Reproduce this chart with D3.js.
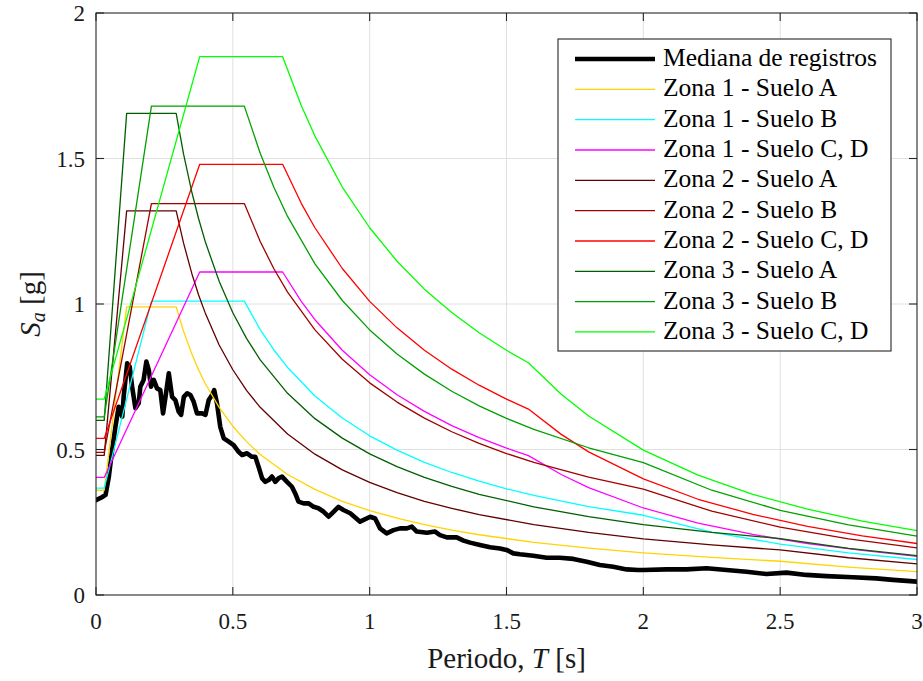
<!DOCTYPE html>
<html>
<head>
<meta charset="utf-8">
<script src="https://cdn.jsdelivr.net/npm/d3@7"></script>
<style>
html, body { margin: 0; padding: 0; background: #fff; }
svg { display: block; }
svg text { font-family: "Liberation Serif", "DejaVu Serif", "Times New Roman", serif; }
</style>
</head>
<body>
<svg id="chart" width="923" height="681" font-family="Liberation Serif, DejaVu Serif, serif"></svg>
<script>
// ---------- data ----------
const periodsA = [0, 0.03, 0.112, 0.293, 0.32, 0.35, 0.375, 0.4, 0.45, 0.5, 0.55, 0.6, 0.7, 0.8, 0.9, 1.0, 1.1, 1.2, 1.3, 1.4, 1.6, 1.8, 2.0, 2.25, 2.5, 2.75, 3.0];
const zona1SueloA = [0.36, 0.36, 0.99, 0.99, 0.906, 0.829, 0.773, 0.725, 0.645, 0.580, 0.527, 0.483, 0.414, 0.363, 0.322, 0.290, 0.264, 0.242, 0.223, 0.207, 0.181, 0.161, 0.145, 0.129, 0.116, 0.0959, 0.0806];
const zona2SueloA = [0.48, 0.48, 1.32, 1.32, 1.209, 1.105, 1.031, 0.967, 0.859, 0.774, 0.703, 0.645, 0.553, 0.484, 0.430, 0.387, 0.352, 0.322, 0.298, 0.276, 0.242, 0.215, 0.193, 0.172, 0.155, 0.128, 0.107];
const zona3SueloA = [0.60, 0.60, 1.655, 1.655, 1.515, 1.385, 1.293, 1.212, 1.078, 0.970, 0.882, 0.808, 0.693, 0.606, 0.539, 0.485, 0.441, 0.404, 0.373, 0.346, 0.303, 0.269, 0.242, 0.215, 0.194, 0.160, 0.135];

const periodsB = [0, 0.03, 0.2025, 0.542, 0.6, 0.65, 0.7, 0.8, 0.9, 1.0, 1.1, 1.2, 1.3, 1.4, 1.5, 1.6, 1.8, 2.0, 2.25, 2.5, 2.75, 3.0];
const zona1SueloB = [0.367, 0.367, 1.01, 1.01, 0.912, 0.842, 0.782, 0.684, 0.608, 0.547, 0.498, 0.456, 0.421, 0.391, 0.365, 0.342, 0.304, 0.274, 0.216, 0.175, 0.145, 0.122];
const zona2SueloB = [0.49, 0.49, 1.345, 1.345, 1.215, 1.121, 1.041, 0.911, 0.810, 0.729, 0.663, 0.608, 0.561, 0.521, 0.486, 0.456, 0.405, 0.364, 0.288, 0.233, 0.193, 0.162];
const zona3SueloB = [0.612, 0.612, 1.68, 1.68, 1.518, 1.401, 1.301, 1.138, 1.012, 0.911, 0.828, 0.759, 0.700, 0.650, 0.607, 0.569, 0.506, 0.455, 0.360, 0.291, 0.241, 0.202];

const periodsCD = [0, 0.03, 0.379, 0.682, 0.75, 0.8, 0.9, 1.0, 1.1, 1.2, 1.3, 1.4, 1.5, 1.58, 1.7, 1.8, 2.0, 2.2, 2.4, 2.6, 2.8, 3.0];
const zona1SueloCD = [0.404, 0.404, 1.11, 1.11, 1.009, 0.946, 0.841, 0.757, 0.688, 0.631, 0.582, 0.541, 0.505, 0.479, 0.414, 0.369, 0.299, 0.247, 0.208, 0.177, 0.153, 0.133];
const zona2SueloCD = [0.538, 0.538, 1.48, 1.48, 1.346, 1.262, 1.122, 1.009, 0.918, 0.841, 0.776, 0.721, 0.673, 0.639, 0.552, 0.492, 0.399, 0.329, 0.277, 0.236, 0.203, 0.177];
const zona3SueloCD = [0.673, 0.673, 1.85, 1.85, 1.682, 1.577, 1.402, 1.262, 1.147, 1.051, 0.971, 0.901, 0.841, 0.798, 0.690, 0.615, 0.498, 0.412, 0.346, 0.295, 0.254, 0.221];

const medianT = [0, 0.02, 0.035, 0.047, 0.059, 0.071, 0.083, 0.096, 0.101, 0.114,
  0.123, 0.132, 0.144, 0.156, 0.162, 0.174, 0.184, 0.193, 0.201, 0.211,
  0.223, 0.235, 0.245, 0.254, 0.266, 0.278, 0.290, 0.302, 0.311, 0.321,
  0.333, 0.345, 0.357, 0.369, 0.388, 0.400, 0.412, 0.424, 0.432, 0.442,
  0.454, 0.467, 0.485, 0.503, 0.521, 0.534, 0.552, 0.570, 0.582, 0.594,
  0.607, 0.619, 0.631, 0.643, 0.655, 0.667, 0.680, 0.698, 0.716, 0.728,
  0.740, 0.759, 0.777, 0.795, 0.813, 0.832, 0.850, 0.868, 0.886, 0.904,
  0.929, 0.965, 1.002, 1.020, 1.038, 1.062, 1.087, 1.111, 1.136, 1.154,
  1.172, 1.209, 1.239, 1.257, 1.282, 1.318, 1.343, 1.367, 1.403, 1.440,
  1.476, 1.500, 1.525, 1.549, 1.598, 1.647, 1.695, 1.744, 1.793, 1.841,
  1.890, 1.939, 1.981, 2.0, 2.085, 2.158, 2.231, 2.304, 2.377, 2.450,
  2.523, 2.596, 2.669, 2.766, 2.851, 2.912, 3.0];
const medianSa = [0.326, 0.335, 0.344, 0.407, 0.498, 0.578, 0.647, 0.613, 0.681, 0.796,
  0.785, 0.716, 0.642, 0.659, 0.716, 0.739, 0.802, 0.773, 0.716, 0.739,
  0.710, 0.704, 0.624, 0.681, 0.762, 0.681, 0.670, 0.630, 0.619, 0.681,
  0.693, 0.687, 0.664, 0.624, 0.624, 0.619, 0.670, 0.687, 0.704, 0.659,
  0.578, 0.538, 0.527, 0.515, 0.492, 0.481, 0.487, 0.475, 0.475, 0.441,
  0.401, 0.389, 0.395, 0.407, 0.389, 0.401, 0.407, 0.389, 0.372, 0.349,
  0.321, 0.315, 0.315, 0.303, 0.298, 0.286, 0.269, 0.286, 0.303, 0.292,
  0.281, 0.252, 0.269, 0.263, 0.229, 0.212, 0.223, 0.229, 0.229, 0.235,
  0.218, 0.214, 0.218, 0.206, 0.198, 0.198, 0.187, 0.180, 0.172, 0.164,
  0.160, 0.155, 0.143, 0.140, 0.135, 0.128, 0.128, 0.124, 0.114, 0.103,
  0.097, 0.088, 0.086, 0.086, 0.088, 0.088, 0.092, 0.086, 0.080, 0.072,
  0.077, 0.069, 0.065, 0.061, 0.057, 0.052, 0.046];

const xTicks = [0, 0.5, 1, 1.5, 2, 2.5, 3];
const yTicks = [0, 0.5, 1, 1.5, 2];
const xTickLabels = ["0", "0.5", "1", "1.5", "2", "2.5", "3"];
const yTickLabels = ["0", "0.5", "1", "1.5", "2"];

const legendLabels = ["Mediana de registros",
  "Zona 1 - Suelo A", "Zona 1 - Suelo B", "Zona 1 - Suelo C, D",
  "Zona 2 - Suelo A", "Zona 2 - Suelo B", "Zona 2 - Suelo C, D",
  "Zona 3 - Suelo A", "Zona 3 - Suelo B", "Zona 3 - Suelo C, D"];

// ---------- styles ----------
const FONT = "Liberation Serif, DejaVu Serif, serif";
const spectraColors = ["#FFD400", "#00FFFF", "#FF00FF", "#600000", "#A00000", "#FF0000", "#005F00", "#00A000", "#00FF00"];

const spectra = [
  {T: periodsA, Sa: zona1SueloA}, {T: periodsB, Sa: zona1SueloB}, {T: periodsCD, Sa: zona1SueloCD},
  {T: periodsA, Sa: zona2SueloA}, {T: periodsB, Sa: zona2SueloB}, {T: periodsCD, Sa: zona2SueloCD},
  {T: periodsA, Sa: zona3SueloA}, {T: periodsB, Sa: zona3SueloB}, {T: periodsCD, Sa: zona3SueloCD}
];

// ---------- layout ----------
const svg = d3.select("#chart");
const L = 96, R = 917, T = 13, B = 595;
const x = d3.scaleLinear().domain([0, 3]).range([L, R]);
const y = d3.scaleLinear().domain([0, 2]).range([B, T]);
const axisColor = "#262626";

// grid
const grid = svg.append("g");
grid.selectAll(".gx").data(xTicks.slice(1, -1)).join("line")
  .attr("x1", d => x(d)).attr("x2", d => x(d)).attr("y1", T).attr("y2", B)
  .attr("stroke", "#e0e0e0").attr("stroke-width", 1);
grid.selectAll(".gy").data(yTicks.slice(1, -1)).join("line")
  .attr("y1", d => y(d)).attr("y2", d => y(d)).attr("x1", L).attr("x2", R)
  .attr("stroke", "#e0e0e0").attr("stroke-width", 1);

// clip
svg.append("clipPath").attr("id", "clip").append("rect")
  .attr("x", L).attr("y", T).attr("width", R - L).attr("height", B - T);

const plot = svg.append("g").attr("clip-path", "url(#clip)");
const line = d3.line().x(d => x(d[0])).y(d => y(d[1]));

// median first (drawn under the spectra)
plot.append("path")
  .datum(medianT.map((t, i) => [t, medianSa[i]]))
  .attr("d", line).attr("fill", "none").attr("stroke", "#000")
  .attr("stroke-width", 4.6).attr("stroke-linejoin", "round").attr("stroke-linecap", "round");

spectra.forEach((s, k) => {
  plot.append("path")
    .datum(s.T.map((t, i) => [t, s.Sa[i]]))
    .attr("d", line).attr("fill", "none").attr("stroke", spectraColors[k])
    .attr("stroke-width", 1.3).attr("stroke-linejoin", "round");
});

// axes (box with inward ticks on all sides)
const tickLen = 8;
const ax = svg.append("g").attr("stroke", axisColor).attr("stroke-width", 1.1);
ax.append("rect").attr("x", L).attr("y", T).attr("width", R - L).attr("height", B - T).attr("fill", "none");
xTicks.forEach(t => {
  ax.append("line").attr("x1", x(t)).attr("x2", x(t)).attr("y1", B).attr("y2", B - tickLen);
  ax.append("line").attr("x1", x(t)).attr("x2", x(t)).attr("y1", T).attr("y2", T + tickLen);
});
yTicks.forEach(t => {
  ax.append("line").attr("y1", y(t)).attr("y2", y(t)).attr("x1", L).attr("x2", L + tickLen);
  ax.append("line").attr("y1", y(t)).attr("y2", y(t)).attr("x1", R).attr("x2", R - tickLen);
});

// tick labels
svg.append("g").selectAll("text").data(xTicks).join("text")
  .attr("x", d => x(d)).attr("y", B + 34).attr("text-anchor", "middle")
  .attr("font-family", FONT).attr("font-size", 23).attr("fill", "#1a1a1a")
  .text((d, i) => xTickLabels[i]);
svg.append("g").selectAll("text").data(yTicks).join("text")
  .attr("x", L - 11).attr("y", d => y(d) + 8).attr("text-anchor", "end")
  .attr("font-family", FONT).attr("font-size", 23).attr("fill", "#1a1a1a")
  .text((d, i) => yTickLabels[i]);

// axis labels
const xl = svg.append("text").attr("x", (L + R) / 2).attr("y", 668)
  .attr("text-anchor", "middle").attr("font-family", FONT).attr("font-size", 29).attr("fill", "#1a1a1a");
xl.append("tspan").text("Periodo, ");
xl.append("tspan").attr("font-style", "italic").text("T");
xl.append("tspan").text(" [s]");

const yl = svg.append("text").attr("transform", "translate(40," + ((T + B) / 2) + ") rotate(-90)")
  .attr("text-anchor", "middle").attr("font-family", FONT).attr("font-size", 29).attr("fill", "#1a1a1a");
yl.append("tspan").attr("font-style", "italic").text("S");
yl.append("tspan").attr("font-style", "italic").attr("font-size", 20).attr("dy", 5).text("a");
yl.append("tspan").attr("dy", -5).text(" [g]");

// legend
const lg = svg.append("g");
lg.append("rect").attr("x", 558).attr("y", 39).attr("width", 333).attr("height", 312)
  .attr("fill", "#fff").attr("stroke", axisColor).attr("stroke-width", 1.1);
const legendColors = ["#000"].concat(spectraColors);
legendLabels.forEach((lab, i) => {
  const cy = 59 + i * 30.33;
  lg.append("line").attr("x1", 575).attr("x2", 655).attr("y1", cy).attr("y2", cy)
    .attr("stroke", legendColors[i]).attr("stroke-width", i === 0 ? 4.6 : 1.3);
  lg.append("text").attr("x", 663).attr("y", cy + 7)
    .attr("font-family", FONT).attr("font-size", 25.5)
    .attr("fill", "#000").text(lab);
});
</script>
</body>
</html>
